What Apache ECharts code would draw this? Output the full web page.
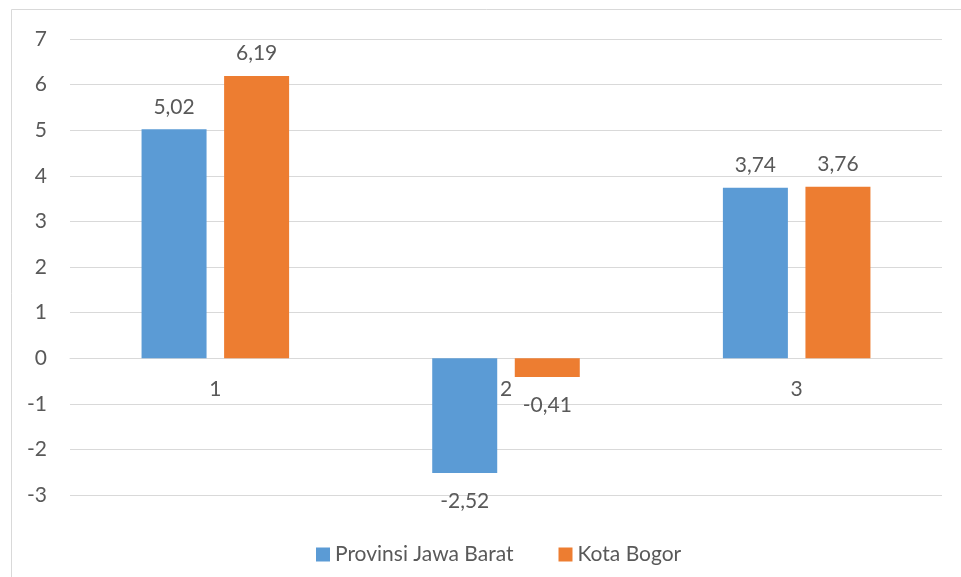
<!DOCTYPE html>
<html>
<head>
<meta charset="utf-8">
<script src="https://cdn.jsdelivr.net/npm/echarts@6/dist/echarts.min.js"></script>
<style>html,body{margin:0;padding:0;background:#fff;}#c{width:961px;height:577px;}</style>
</head>
<body>
<div id="c"></div>
<script>
var categories = ['1', '2', '3'];
var seriesNames = ['Provinsi Jawa Barat', 'Kota Bogor'];
var jawaBarat = [5.02, -2.52, 3.74];
var kotaBogor = [6.19, -0.41, 3.76];
var yTicks = { min: -3, max: 7, interval: 1 };

var FONT = 'Lato, "Open Sans", sans-serif';
var TXT = '#595959';
var FS = 21;

function fmt(v) { return v.toFixed(2).replace('.', ','); }
function withLabels(arr) {
  return arr.map(function (v) {
    return {
      value: v,
      label: v < 0 ? { position: 'bottom', distance: 18 } : { position: 'top', distance: 12 }
    };
  });
}

var chart = echarts.init(document.getElementById('c'), null, { renderer: 'canvas' });
chart.setOption({
  animation: false,
  backgroundColor: '#ffffff',
  textStyle: { fontFamily: FONT },
  graphic: [{
    type: 'rect',
    shape: { x: 11.5, y: 9.5, width: 1200, height: 1200 },
    style: { fill: 'none', stroke: '#d9d9d9', lineWidth: 1 },
    silent: true
  }],
  grid: { left: 70, right: 19, top: 39, bottom: 82 },
  legend: {
    data: seriesNames,
    top: 539,
    left: 311,
    itemWidth: 14,
    itemHeight: 14,
    itemGap: 45,
    icon: 'rect',
    textStyle: { color: TXT, fontSize: FS, fontFamily: FONT }
  },
  xAxis: {
    type: 'category',
    data: categories,
    offset: -137,
    axisLine: { show: true, onZero: false, lineStyle: { color: '#d9d9d9', width: 1 } },
    axisTick: { show: false },
    axisLabel: { color: TXT, fontSize: FS, margin: 21, fontFamily: FONT }
  },
  yAxis: {
    type: 'value',
    min: yTicks.min,
    max: yTicks.max,
    interval: yTicks.interval,
    axisLine: { show: false },
    axisTick: { show: false },
    splitLine: { lineStyle: { color: '#d9d9d9', width: 1 } },
    axisLabel: { color: TXT, fontSize: FS, margin: 23, fontFamily: FONT }
  },
  series: [
    {
      name: seriesNames[0],
      type: 'bar',
      data: withLabels(jawaBarat),
      barWidth: 65,
      barGap: '27%',
      itemStyle: { color: '#5B9BD5' },
      label: { show: true, color: TXT, fontSize: FS, fontFamily: FONT, formatter: function (p) { return fmt(p.value); } }
    },
    {
      name: seriesNames[1],
      type: 'bar',
      data: withLabels(kotaBogor),
      barWidth: 65,
      barGap: '27%',
      itemStyle: { color: '#ED7D31' },
      label: { show: true, color: TXT, fontSize: FS, fontFamily: FONT, formatter: function (p) { return fmt(p.value); } }
    }
  ]
});
</script>
</body>
</html>
